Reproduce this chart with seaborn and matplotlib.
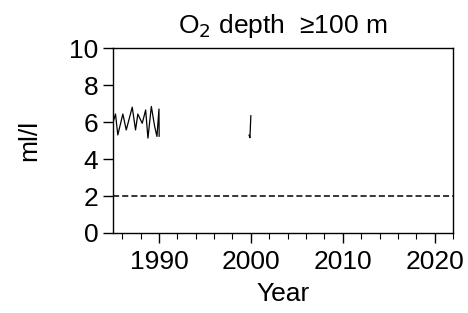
import pandas as pd
import matplotlib
matplotlib.use('Agg')
import matplotlib.pyplot as plt
import matplotlib.ticker as mticker
import seaborn as sns

# data
years_a = [1985.0, 1985.27, 1985.52, 1986.07, 1986.44, 1987.09, 1987.45, 1987.7,
           1988.18, 1988.55, 1988.8, 1989.17, 1989.53, 1989.78, 1990.0, 1990.02]
o2_a = [5.98, 6.43, 5.3, 6.43, 5.57, 6.8, 5.57, 6.43,
        5.93, 6.65, 5.13, 6.84, 5.76, 5.22, 6.7, 5.22]
years_b = [1999.8, 1999.9, 2000.0]
o2_b = [5.3, 5.15, 6.35]
threshold = 2.0

df = pd.DataFrame({
    'Year': years_a + years_b,
    'O2': o2_a + o2_b,
    'segment': ['a'] * len(years_a) + ['b'] * len(years_b),
})

sns.set_style('ticks')
plt.rcParams['font.family'] = ['Liberation Sans', 'DejaVu Sans']
plt.rcParams.update({
    'axes.linewidth': 1.0,
    'xtick.major.size': 7, 'xtick.minor.size': 4,
    'ytick.major.size': 7,
    'xtick.major.width': 1.0, 'xtick.minor.width': 0.8,
    'ytick.major.width': 1.0,
    'axes.edgecolor': 'black',
    'xtick.color': 'black', 'ytick.color': 'black',
    'text.color': 'black', 'axes.labelcolor': 'black',
})

fig = plt.figure(figsize=(4.68, 3.13), dpi=100)
ax = fig.add_axes([0.2415, 0.2556, 0.7265, 0.591])

sns.lineplot(data=df, x='Year', y='O2', units='segment', estimator=None,
             sort=False, color='black', lw=0.9, ax=ax)
ax.axhline(threshold, color='black', ls='--', lw=1.1, dashes=(4, 2))

ax.set_xlim(1985, 2022)
ax.set_ylim(0, 10)
ax.set_yticks(range(0, 11, 2))
ax.set_xticks([1990, 2000, 2010, 2020])
ax.xaxis.set_minor_locator(mticker.MultipleLocator(2))
ax.tick_params(labelsize=19)
ax.tick_params(axis='x', pad=5)
ax.set_xlabel('Year', fontsize=19, labelpad=6)
ax.set_ylabel('ml/l', fontsize=19, labelpad=20)
ax.set_title('O$_2$ depth  ≥100 m', fontsize=19, pad=11)
for s in ax.spines.values():
    s.set_visible(True)

fig.savefig('out.png', dpi=100)
